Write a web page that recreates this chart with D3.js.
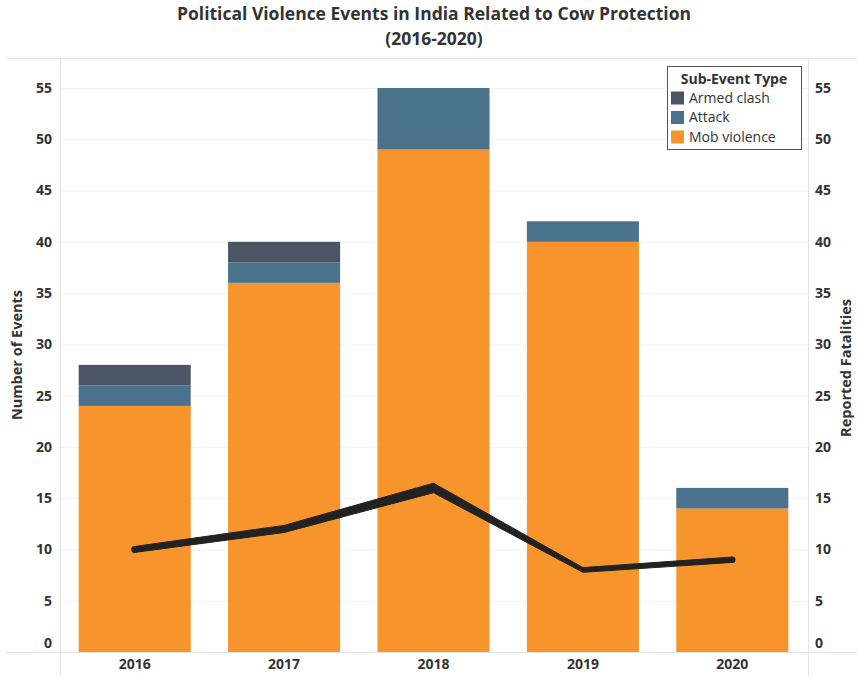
<!DOCTYPE html>
<html>
<head>
<meta charset="utf-8">
<script src="https://cdn.jsdelivr.net/npm/d3@7"></script>
<style>
  body { margin: 0; background: #fff; }
  text { font-family: "Open Sans", "Noto Sans", sans-serif; fill: #333; }
  .tick-lab { font-size: 14px; font-weight: 700; }
  .ttl { font-size: 17.5px; font-weight: 700; }
  .axttl { font-size: 14.5px; font-weight: 700; }
  .leg { font-size: 14px; }
</style>
</head>
<body>
<script>
// canvas
var w = 857;
var h = 676;

// data
var years = ["2016", "2017", "2018", "2019", "2020"];
var mobViolence = [24, 36, 49, 40, 14];
var attack = [2, 2, 6, 2, 2];
var armedClash = [2, 2, 0, 0, 0];
var fatalities = [10, 12, 16, 8, 9];
var yTicks = [0, 5, 10, 15, 20, 25, 30, 35, 40, 45, 50, 55];
var groups = ["Armed clash", "Attack", "Mob violence"];

// plot area
var pdL = 60, pdR = 808, pdT = 88, pdB = 652;

var pickCol = function(grp) {
    if (grp === "Mob violence") {
        return "#f7942b";
    } else if (grp === "Attack") {
        return "#4a728c";
    } else {
        return "#4a5666";
    }
};

var svg = d3.select("body").append("svg")
            .attr("width", w)
            .attr("height", h);

var scaleX = d3.scaleBand()
               .domain(years)
               .range([pdL, pdR - 1])
               .paddingInner(0.25)
               .paddingOuter(0.125);

var scaleY = d3.scaleLinear()
               .domain([0, 55])
               .range([pdB, pdT]);

// gridlines
svg.selectAll("line.grid")
   .data(yTicks.slice(1))
   .enter()
   .append("line")
   .attr("class", "grid")
   .attr("x1", pdL).attr("x2", pdR)
   .attr("y1", function(d) { return scaleY(d) + 0.5; })
   .attr("y2", function(d) { return scaleY(d) + 0.5; })
   .attr("stroke", "#f2f2f2")
   .attr("stroke-width", 1);

// frame lines
svg.append("line").attr("x1", 6).attr("x2", w).attr("y1", 58.5).attr("y2", 58.5)
   .attr("stroke", "#e3e3e3");
svg.append("line").attr("x1", 6).attr("x2", w).attr("y1", pdB + 0.5).attr("y2", pdB + 0.5)
   .attr("stroke", "#e3e3e3");
svg.append("line").attr("x1", pdL + 0.5).attr("x2", pdL + 0.5).attr("y1", 58).attr("y2", h)
   .attr("stroke", "#e3e3e3");
svg.append("line").attr("x1", pdR + 0.5).attr("x2", pdR + 0.5).attr("y1", 58).attr("y2", h)
   .attr("stroke", "#e3e3e3");

// stacked rows
var rows = [];
for (var i = 0; i < years.length; i++) {
    var base = 0;
    var parts = [["Mob violence", mobViolence[i]], ["Attack", attack[i]], ["Armed clash", armedClash[i]]];
    for (var j = 0; j < parts.length; j++) {
        if (parts[j][1] > 0) {
            rows.push({ year: years[i], group: parts[j][0], y0: base, y1: base + parts[j][1] });
        }
        base += parts[j][1];
    }
}

svg.selectAll("rect.bar")
   .data(rows)
   .enter()
   .append("rect")
   .attr("class", "bar")
   .attr("x", function(d) { return scaleX(d.year); })
   .attr("y", function(d) { return scaleY(d.y1); })
   .attr("width", scaleX.bandwidth())
   .attr("height", function(d) { return scaleY(d.y0) - scaleY(d.y1); })
   .attr("fill", function(d) { return pickCol(d.group); });

// fatalities line, width sized by value
var sizeScale = d3.scaleLinear().domain([0, 16]).range([0, 9.5]);
var pts = years.map(function(y, i) {
    return { x: scaleX(y) + scaleX.bandwidth() / 2, y: scaleY(fatalities[i]), t: sizeScale(fatalities[i]) };
});
var area = d3.area()
             .x(function(d) { return d.x; })
             .y0(function(d) { return d.y - d.t / 2; })
             .y1(function(d) { return d.y + d.t / 2; });
svg.append("path")
   .datum(pts)
   .attr("d", area)
   .attr("fill", "#222")
   .attr("stroke", "#222")
   .attr("stroke-width", 1)
   .attr("stroke-linejoin", "round");
svg.selectAll("circle.cap")
   .data([pts[0], pts[pts.length - 1]])
   .enter()
   .append("circle")
   .attr("cx", function(d) { return d.x; })
   .attr("cy", function(d) { return d.y; })
   .attr("r", function(d) { return d.t / 2 + 0.5; })
   .attr("fill", "#222");

// y axis labels (left and right)
var labY = function(d) { return d === 0 ? scaleY(d) - 9 : scaleY(d); };
svg.selectAll("text.ly")
   .data(yTicks)
   .enter()
   .append("text")
   .attr("class", "tick-lab")
   .attr("x", 52)
   .attr("y", labY)
   .attr("dy", "0.35em")
   .attr("text-anchor", "end")
   .text(function(d) { return d; });
svg.selectAll("text.ry")
   .data(yTicks)
   .enter()
   .append("text")
   .attr("class", "tick-lab")
   .attr("x", 815)
   .attr("y", labY)
   .attr("dy", "0.35em")
   .attr("text-anchor", "start")
   .text(function(d) { return d; });

// x labels
svg.selectAll("text.xl")
   .data(years)
   .enter()
   .append("text")
   .attr("class", "tick-lab")
   .attr("x", function(d) { return scaleX(d) + scaleX.bandwidth() / 2; })
   .attr("y", 664)
   .attr("dy", "0.35em")
   .attr("text-anchor", "middle")
   .text(function(d) { return d; });

// axis titles
svg.append("text")
   .attr("class", "axttl")
   .attr("transform", "translate(22,355) rotate(-90)")
   .attr("text-anchor", "middle")
   .text("Number of Events");
svg.append("text")
   .attr("class", "axttl")
   .attr("transform", "translate(851,368) rotate(-90)")
   .attr("text-anchor", "middle")
   .text("Reported Fatalities");

// title
svg.append("text").attr("class", "ttl").attr("x", 434).attr("y", 20)
   .attr("text-anchor", "middle")
   .text("Political Violence Events in India Related to Cow Protection");
svg.append("text").attr("class", "ttl").attr("x", 434).attr("y", 45)
   .attr("text-anchor", "middle")
   .text("(2016-2020)");

// legend
svg.append("rect")
   .attr("x", 667.5).attr("y", 66.5)
   .attr("width", 134).attr("height", 83)
   .attr("fill", "#fff")
   .attr("stroke", "#555");
svg.append("text")
   .attr("x", 734).attr("y", 84)
   .attr("text-anchor", "middle")
   .attr("font-size", "14px")
   .attr("font-weight", 700)
   .text("Sub-Event Type");
var leg = svg.selectAll("g.leg")
   .data(groups)
   .enter()
   .append("g")
   .attr("transform", function(d, i) { return "translate(671," + (98 + i * 19.5) + ")"; });
leg.append("rect")
   .attr("x", 0).attr("y", -6.5)
   .attr("width", 13).attr("height", 13)
   .attr("fill", function(d) { return pickCol(d); });
leg.append("text")
   .attr("class", "leg")
   .attr("x", 18)
   .attr("dy", "0.35em")
   .text(function(d) { return d; });
</script>
</body>
</html>
